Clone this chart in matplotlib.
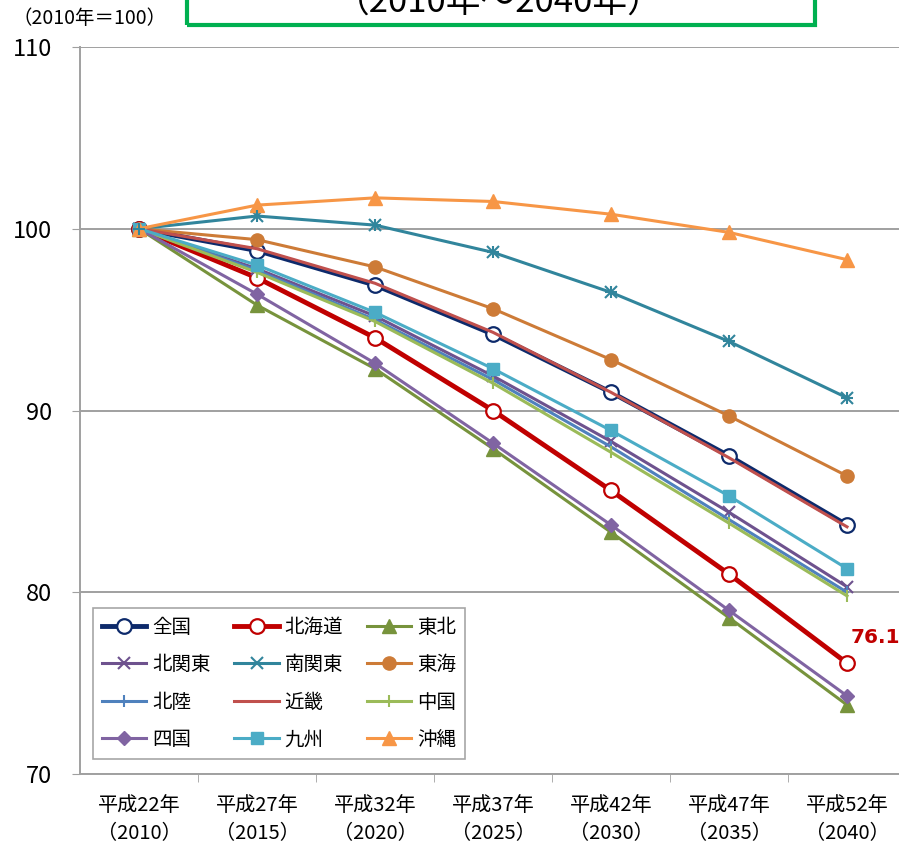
import matplotlib
matplotlib.use("Agg")
import matplotlib.pyplot as plt
from matplotlib.patches import Rectangle
from matplotlib.ticker import FixedLocator

plt.rcParams['font.family'] = ['Noto Sans CJK JP', 'DejaVu Sans']

# 将来推計人口の指数（2010年＝100）
years = ["平成22年\n（2010）", "平成27年\n（2015）", "平成32年\n（2020）", "平成37年\n（2025）",
         "平成42年\n（2030）", "平成47年\n（2035）", "平成52年\n（2040）"]

zenkoku = [100, 98.8, 96.9, 94.2, 91.0, 87.5, 83.7]
hokkaido = [100, 97.3, 94.0, 90.0, 85.6, 81.0, 76.1]
tohoku = [100, 95.8, 92.3, 87.9, 83.3, 78.6, 73.8]
kitakanto = [100, 97.8, 95.2, 91.9, 88.3, 84.4, 80.3]
minamikanto = [100, 100.7, 100.2, 98.7, 96.5, 93.8, 90.7]
tokai = [100, 99.4, 97.9, 95.6, 92.8, 89.7, 86.4]
hokuriku = [100, 97.7, 95.0, 91.7, 88.0, 84.0, 80.0]
kinki = [100, 98.9, 97.0, 94.3, 91.0, 87.4, 83.6]
chugoku = [100, 97.6, 94.9, 91.5, 87.7, 83.8, 79.8]
shikoku = [100, 96.4, 92.6, 88.2, 83.7, 79.0, 74.3]
kyushu = [100, 98.0, 95.4, 92.3, 88.9, 85.3, 81.3]
okinawa = [100, 101.3, 101.7, 101.5, 100.8, 99.8, 98.3]

THIN = 2.2
THICK = 3.5
series = [
    ("全国", zenkoku, dict(color="#0D2A6B", lw=THICK, marker="o", ms=10.5, mfc="white", mec="#0D2A6B", mew=1.6)),
    ("北海道", hokkaido, dict(color="#C00000", lw=THICK, marker="o", ms=10.5, mfc="white", mec="#C00000", mew=1.6)),
    ("東北", tohoku, dict(color="#77933C", lw=THIN, marker="^", ms=9.5)),
    ("北関東", kitakanto, dict(color="#6E528E", lw=THIN, marker="x", ms=8, mew=1.5)),
    ("南関東", minamikanto, dict(color="#31859C", lw=THIN, marker="x", ms=8, mew=1.5)),
    ("東海", tokai, dict(color="#CD7B37", lw=THIN, marker="o", ms=9.5)),
    ("北陸", hokuriku, dict(color="#4F81BD", lw=THIN, marker="|", ms=9, mew=1.5)),
    ("近畿", kinki, dict(color="#C0504D", lw=THIN, marker="None")),
    ("中国", chugoku, dict(color="#9BBB59", lw=THIN, marker="|", ms=9, mew=1.5)),
    ("四国", shikoku, dict(color="#8064A2", lw=THIN, marker="D", ms=7.5)),
    ("九州", kyushu, dict(color="#4BACC6", lw=THIN, marker="s", ms=9)),
    ("沖縄", okinawa, dict(color="#F79646", lw=THIN, marker="^", ms=9.5)),
]

fig = plt.figure(figsize=(8.99, 8.43), dpi=100)
ax = fig.add_axes([80 / 899, 1 - 774 / 843, 826 / 899, 727 / 843])

x = list(range(len(years)))
handles = {}
for name, vals, style in series:
    line, = ax.plot(x, vals, label=name, **style)
    handles[name] = line
# 南関東 uses an asterisk: overlay a plus on the cross
ax.plot(x, minamikanto, linestyle="None", marker="+", ms=9, mew=1.5, color="#31859C")

ax.set_xlim(-0.5, 6.5)
ax.set_ylim(70, 110)
ax.set_yticks([70, 80, 90, 100, 110])
ax.yaxis.grid(True, color="#A0A0A0", lw=1.4)
ax.set_axisbelow(True)
ax.set_xticks(x)
ax.set_xticklabels(years, fontsize=14.5, linespacing=1.45)
ax.xaxis.set_minor_locator(FixedLocator([i + 0.5 for i in range(6)]))
ax.tick_params(axis="x", which="major", length=0, pad=15)
ax.tick_params(axis="x", which="minor", length=6, color="#A0A0A0")
ax.tick_params(axis="y", length=6, color="#A0A0A0", labelsize=17, pad=14)
for side in ("top", "right"):
    ax.spines[side].set_visible(False)
for side in ("left", "bottom"):
    ax.spines[side].set_color("#A0A0A0")
    ax.spines[side].set_linewidth(1.4)

ax.text(6 + 4 / 118, 76.1 + 1.43, "76.1", color="#C00000", fontsize=14.5, fontweight="bold",
        family=["DejaVu Sans"], ha="left", va="center")

order = ["全国", "北関東", "北陸", "四国",
         "北海道", "南関東", "近畿", "九州",
         "東北", "東海", "中国", "沖縄"]
leg = ax.legend([handles[n] for n in order], order, ncol=3, loc="lower left",
                bbox_to_anchor=(13 / 826, 15 / 727), borderaxespad=0, fontsize=14,
                frameon=True, fancybox=False, edgecolor="#909090", handlelength=2.3,
                handletextpad=0.3, columnspacing=1.2, labelspacing=0.85,
                borderpad=0.45)
leg.get_frame().set_linewidth(1.2)

fig.text(12 / 899, 1 - 19 / 843, "（2010年＝100）", fontsize=14, va="center", ha="left")

fig.patches.append(Rectangle((187 / 899, 1 - 25 / 843), (815 - 187) / 899, 0.1,
                             transform=fig.transFigure, fill=False, edgecolor="#00B050", lw=3))
fig.text(499 / 899, 1 - 13 / 843, "（2010年～2040年）", fontsize=25, ha="center", va="baseline")

fig.savefig("out.png", dpi=100)
